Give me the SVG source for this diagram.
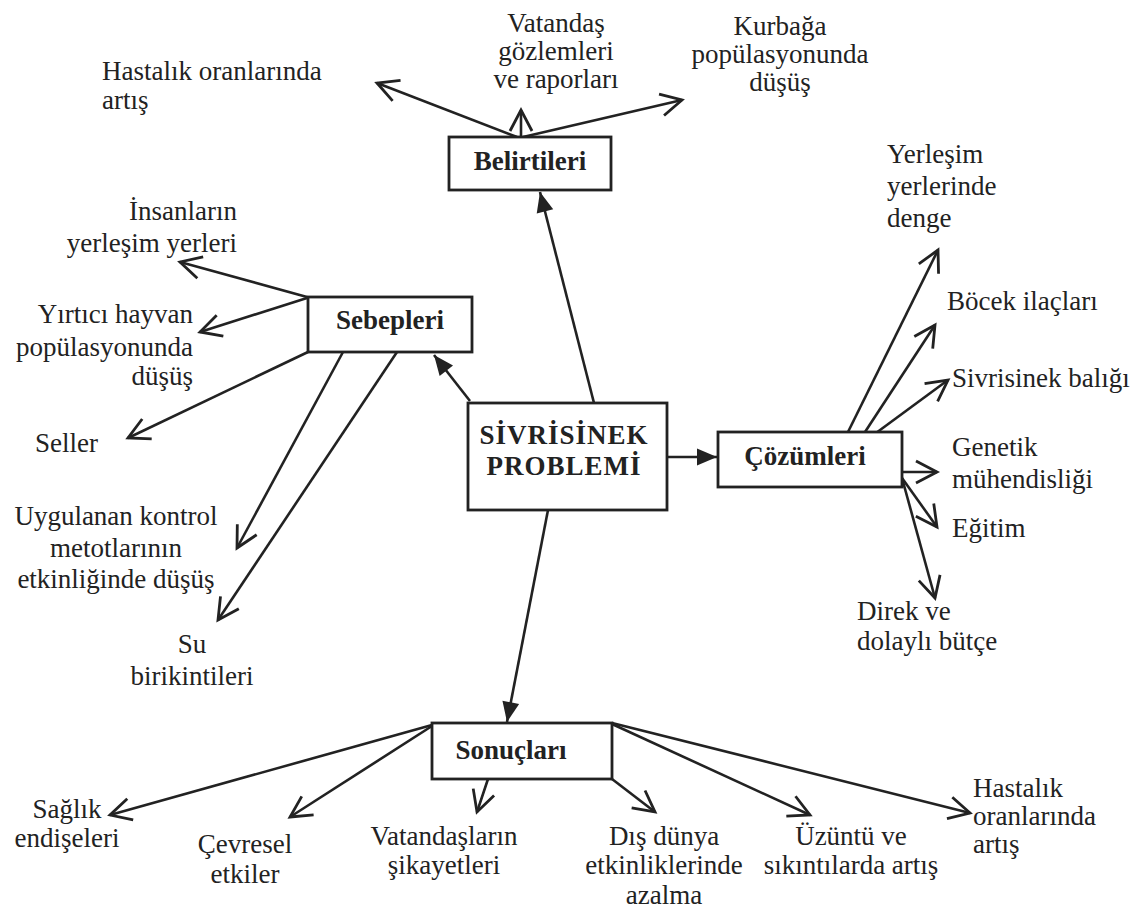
<svg xmlns="http://www.w3.org/2000/svg" width="1145" height="918" viewBox="0 0 1145 918">
  <style>
    .box { fill: #ffffff; stroke: #222222; stroke-width: 2.8; }
    .lbl { font-family: "Liberation Serif", "Times New Roman", serif; font-size: 27px; fill: #222222; }
    .ttl { font-family: "Liberation Serif", "Times New Roman", serif; font-size: 27px; font-weight: bold; fill: #222222; }
    .main { font-family: "Liberation Serif", "Times New Roman", serif; font-size: 27px; font-weight: bold; fill: #222222; letter-spacing: 1px; }
    .link { fill: none; stroke: #222222; stroke-width: 2.6; }
    .open { marker-end: url(#open); }
    .solid { marker-end: url(#solid); }
  </style>
  <defs>
    <marker id="open" markerUnits="userSpaceOnUse" markerWidth="30" markerHeight="30" viewBox="-26 -15 30 30" refX="0" refY="0" orient="auto" overflow="visible">
      <path d="M -21 -11 L 0 0 L -21 11" fill="none" stroke="#222222" stroke-width="2.8" stroke-linejoin="miter"/>
    </marker>
    <marker id="solid" markerUnits="userSpaceOnUse" markerWidth="24" markerHeight="20" viewBox="-20 -10 24 20" refX="0" refY="0" orient="auto" overflow="visible">
      <path d="M -20 -8.5 L 0 0 L -20 8.5 Z" fill="#222222"/>
    </marker>
  </defs>
  <rect x="0" y="0" width="1145" height="918" fill="#ffffff"/>

  <!-- connectors -->
  <g id="connectors">
    <!-- centre to the four headings -->
    <line class="link solid" x1="594" y1="403" x2="540" y2="192"/>
    <line class="link solid" x1="470" y1="401" x2="434" y2="355"/>
    <line class="link solid" x1="667" y1="457" x2="717" y2="457"/>
    <line class="link solid" x1="548" y1="510" x2="507" y2="722"/>

    <!-- Belirtileri -->
    <line class="link open" x1="517" y1="137" x2="377" y2="83"/>
    <line class="link open" x1="521" y1="137" x2="521" y2="110"/>
    <line class="link open" x1="523" y1="137" x2="682" y2="100"/>

    <!-- Sebepleri -->
    <line class="link open" x1="307" y1="297" x2="180" y2="262"/>
    <line class="link open" x1="307" y1="298" x2="200" y2="332"/>
    <line class="link open" x1="308" y1="352" x2="128" y2="438"/>
    <line class="link open" x1="343" y1="352" x2="237" y2="548"/>
    <line class="link open" x1="397" y1="352" x2="218" y2="620"/>

    <!-- Çözümleri -->
    <line class="link open" x1="848" y1="432" x2="938" y2="250"/>
    <line class="link open" x1="865" y1="432" x2="935" y2="325"/>
    <line class="link open" x1="876" y1="433" x2="948" y2="380"/>
    <line class="link open" x1="902" y1="472" x2="937" y2="472"/>
    <line class="link open" x1="902" y1="478" x2="937" y2="527"/>
    <line class="link open" x1="902" y1="478" x2="935" y2="598"/>

    <!-- Sonuçları -->
    <line class="link open" x1="432" y1="725" x2="110" y2="815"/>
    <line class="link open" x1="432" y1="726" x2="290" y2="817"/>
    <line class="link open" x1="488" y1="779" x2="477" y2="812"/>
    <line class="link open" x1="612" y1="779" x2="655" y2="812"/>
    <line class="link open" x1="612" y1="724" x2="810" y2="815"/>
    <line class="link open" x1="612" y1="723" x2="970" y2="813"/>
  </g>

  <!-- centre node -->
  <g id="node-problem">
    <rect class="box" x="468" y="403" width="199" height="107"/>
    <text class="main" x="564" y="444" text-anchor="middle">SİVRİSİNEK</text>
    <text class="main" x="564" y="475" text-anchor="middle">PROBLEMİ</text>
  </g>

  <g id="node-belirtileri">
    <rect class="box" x="449" y="137" width="162" height="53"/>
    <text class="ttl" x="530" y="170" text-anchor="middle">Belirtileri</text>
  </g>

  <g id="node-sebepleri">
    <rect class="box" x="308" y="297" width="164" height="55"/>
    <text class="ttl" x="390" y="329" text-anchor="middle">Sebepleri</text>
  </g>

  <g id="node-cozumleri">
    <rect class="box" x="718" y="432" width="184" height="55"/>
    <text class="ttl" x="805" y="465" text-anchor="middle">Çözümleri</text>
  </g>

  <g id="node-sonuclari">
    <rect class="box" x="432" y="723" width="180" height="56"/>
    <text class="ttl" x="511" y="759" text-anchor="middle">Sonuçları</text>
  </g>

  <!-- Belirtileri leaves -->
  <g id="leaf-hastalik-top">
    <text class="lbl" x="102" y="80">Hastalık oranlarında</text>
    <text class="lbl" x="102" y="109">artış</text>
  </g>
  <g id="leaf-vatandas-gozlem">
    <text class="lbl" x="556" y="32" text-anchor="middle">Vatandaş</text>
    <text class="lbl" x="556" y="60" text-anchor="middle">gözlemleri</text>
    <text class="lbl" x="556" y="88" text-anchor="middle">ve raporları</text>
  </g>
  <g id="leaf-kurbaga">
    <text class="lbl" x="780" y="35" text-anchor="middle">Kurbağa</text>
    <text class="lbl" x="780" y="63" text-anchor="middle">popülasyonunda</text>
    <text class="lbl" x="780" y="91" text-anchor="middle">düşüş</text>
  </g>

  <!-- Sebepleri leaves -->
  <g id="leaf-insanlarin">
    <text class="lbl" x="237" y="220" text-anchor="end">İnsanların</text>
    <text class="lbl" x="237" y="252" text-anchor="end">yerleşim yerleri</text>
  </g>
  <g id="leaf-yirtici">
    <text class="lbl" x="193" y="323" text-anchor="end">Yırtıcı hayvan</text>
    <text class="lbl" x="193" y="356" text-anchor="end">popülasyonunda</text>
    <text class="lbl" x="193" y="385" text-anchor="end">düşüş</text>
  </g>
  <g id="leaf-seller">
    <text class="lbl" x="35" y="452">Seller</text>
  </g>
  <g id="leaf-kontrol">
    <text class="lbl" x="116" y="525" text-anchor="middle">Uygulanan kontrol</text>
    <text class="lbl" x="116" y="557" text-anchor="middle">metotlarının</text>
    <text class="lbl" x="116" y="588" text-anchor="middle">etkinliğinde düşüş</text>
  </g>
  <g id="leaf-su">
    <text class="lbl" x="192" y="653" text-anchor="middle">Su</text>
    <text class="lbl" x="192" y="685" text-anchor="middle">birikintileri</text>
  </g>

  <!-- Çözümleri leaves -->
  <g id="leaf-denge">
    <text class="lbl" x="887" y="163">Yerleşim</text>
    <text class="lbl" x="887" y="195">yerlerinde</text>
    <text class="lbl" x="887" y="227">denge</text>
  </g>
  <g id="leaf-bocek">
    <text class="lbl" x="947" y="310">Böcek ilaçları</text>
  </g>
  <g id="leaf-balik">
    <text class="lbl" x="952" y="387">Sivrisinek balığı</text>
  </g>
  <g id="leaf-genetik">
    <text class="lbl" x="952" y="456">Genetik</text>
    <text class="lbl" x="952" y="488">mühendisliği</text>
  </g>
  <g id="leaf-egitim">
    <text class="lbl" x="952" y="537">Eğitim</text>
  </g>
  <g id="leaf-butce">
    <text class="lbl" x="857" y="620">Direk ve</text>
    <text class="lbl" x="857" y="650">dolaylı bütçe</text>
  </g>

  <!-- Sonuçları leaves -->
  <g id="leaf-saglik">
    <text class="lbl" x="67" y="818" text-anchor="middle">Sağlık</text>
    <text class="lbl" x="67" y="847" text-anchor="middle">endişeleri</text>
  </g>
  <g id="leaf-cevresel">
    <text class="lbl" x="245" y="853" text-anchor="middle">Çevresel</text>
    <text class="lbl" x="245" y="883" text-anchor="middle">etkiler</text>
  </g>
  <g id="leaf-sikayet">
    <text class="lbl" x="444" y="845" text-anchor="middle">Vatandaşların</text>
    <text class="lbl" x="444" y="874" text-anchor="middle">şikayetleri</text>
  </g>
  <g id="leaf-dis-dunya">
    <text class="lbl" x="664" y="845" text-anchor="middle">Dış dünya</text>
    <text class="lbl" x="664" y="874" text-anchor="middle">etkinliklerinde</text>
    <text class="lbl" x="664" y="904" text-anchor="middle">azalma</text>
  </g>
  <g id="leaf-uzuntu">
    <text class="lbl" x="851" y="845" text-anchor="middle">Üzüntü ve</text>
    <text class="lbl" x="851" y="874" text-anchor="middle">sıkıntılarda artış</text>
  </g>
  <g id="leaf-hastalik-bottom">
    <text class="lbl" x="973" y="797">Hastalık</text>
    <text class="lbl" x="973" y="825">oranlarında</text>
    <text class="lbl" x="973" y="853">artış</text>
  </g>
</svg>
